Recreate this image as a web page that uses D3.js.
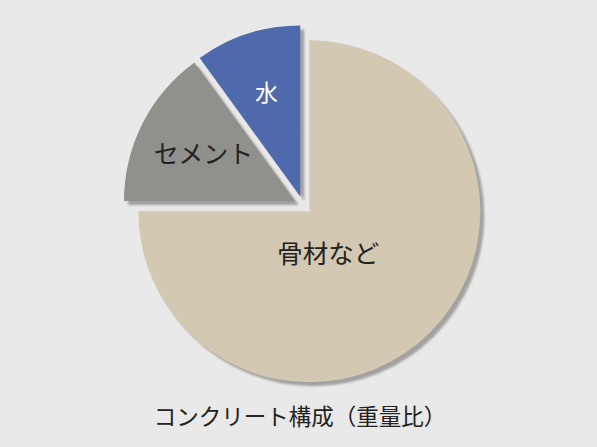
<!DOCTYPE html>
<html>
<head>
<meta charset="utf-8">
<script src="https://cdn.jsdelivr.net/npm/d3@7"></script>
<style>
  html, body { margin: 0; padding: 0; background: #e9e9e9; }
  svg { display: block; }
  text { font-family: "Noto Sans CJK JP", "Noto Sans", sans-serif; }
</style>
</head>
<body>
<svg id="chart"></svg>
<script>
// Data (weight ratio, %)
const categories = ["骨材など", "セメント", "水"];
const values = [75, 15, 10];
const colors = ["#d3c8b1", "#90918d", "#4f69ad"];
const labelColors = ["#222222", "#222222", "#ffffff"];
const title = "コンクリート構成（重量比）";

const width = 597;
const height = 447;
const cx = 303;
const cy = 205;
const radius = 171;
const explode = 9; // px each slice is pulled out along its bisector
const shadowOffset = 4;

// label placement: fraction of radius, angle in degrees (null = slice bisector), font size
const labelPlace = {
  "骨材など": { r: 0.27, a: 156, size: 25.5 },
  "セメント": { r: 0.6, a: null, size: 25 },
  "水": { r: 0.64, a: null, size: 23 }
};

const svg = d3.select("#chart")
  .attr("width", width)
  .attr("height", height);

svg.append("rect")
  .attr("width", width)
  .attr("height", height)
  .attr("fill", "#e9e9e9");

const pie = d3.pie().sort(null).value((d, i) => values[i]);
const arcs = pie(categories);

const arc = d3.arc().innerRadius(0).outerRadius(radius);

function sliceOffset(d) {
  const mid = (d.startAngle + d.endAngle) / 2;
  return [cx + explode * Math.sin(mid), cy - explode * Math.cos(mid)];
}

function labelPoint(d) {
  const p = labelPlace[d.data];
  const a = p.a === null ? (d.startAngle + d.endAngle) / 2 : p.a * Math.PI / 180;
  const [x, y] = sliceOffset(d);
  return [x + p.r * radius * Math.sin(a), y - p.r * radius * Math.cos(a)];
}

const defs = svg.append("defs");
defs.append("filter")
  .attr("id", "blur")
  .append("feGaussianBlur")
  .attr("stdDeviation", 0.8);

// shadows
svg.append("g").selectAll("path")
  .data(arcs)
  .join("path")
  .attr("d", arc)
  .attr("fill", "#a2a2a2")
  .attr("filter", "url(#blur)")
  .attr("transform", (d) => {
    const [x, y] = sliceOffset(d);
    return `translate(${x + shadowOffset}, ${y + shadowOffset})`;
  });

// slices
svg.append("g").selectAll("path")
  .data(arcs)
  .join("path")
  .attr("d", arc)
  .attr("fill", (d, i) => colors[i])
  .attr("transform", (d) => {
    const [x, y] = sliceOffset(d);
    return `translate(${x}, ${y})`;
  });

// labels
svg.append("g").selectAll("text")
  .data(arcs)
  .join("text")
  .attr("x", (d) => labelPoint(d)[0])
  .attr("y", (d) => labelPoint(d)[1])
  .attr("dy", "0.36em")
  .attr("text-anchor", "middle")
  .attr("fill", (d, i) => labelColors[i])
  .style("font-size", (d) => labelPlace[d.data].size + "px")
  .text((d) => d.data);

// title
svg.append("text")
  .attr("x", 300)
  .attr("y", 417)
  .attr("dy", "0.36em")
  .attr("text-anchor", "middle")
  .attr("fill", "#222222")
  .style("font-size", "22.5px")
  .text(title);
</script>
</body>
</html>
